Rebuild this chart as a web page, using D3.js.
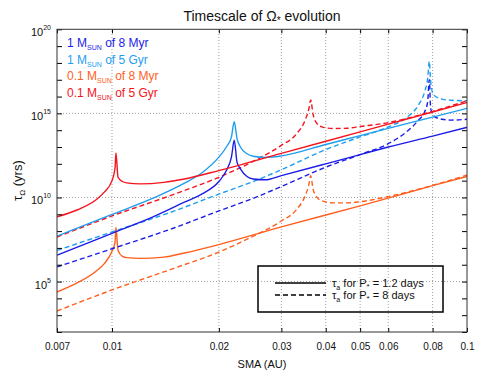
<!DOCTYPE html>
<html>
<head>
<meta charset="utf-8">
<script src="https://cdn.jsdelivr.net/npm/d3@7"></script>
<style>
  body { margin: 0; background: #fff; }
  text { font-family: "Liberation Sans", Arial, sans-serif; }
</style>
</head>
<body>
<div id="chart"></div>
<script>
// Axis ticks
const smaTicks = [0.007, 0.01, 0.02, 0.03, 0.04, 0.05, 0.06, 0.08, 0.1];
const tauDecades = d3.range(2, 21);          // tick at every decade, 10^2 .. 10^20
const tauLabelExps = [5, 10, 15, 20];

// Top-left legend
const legendMass = ['1', '1', '0.1', '0.1'];
const legendAge = ['8 Myr', '5 Gyr', '8 Myr', '5 Gyr'];
const seriesColors = ['#1c1ce8', '#1e9ef0', '#ff5f1e', '#f5141e'];
// Bottom-right legend
const periodLabels = ['1.2 days', '8 days'];

// SMA sampling (AU) for each group of curves
const smaSolidLow = [0.007, 0.008, 0.009, 0.0095, 0.01, 0.0102, 0.01026, 0.0104, 0.0107, 0.011, 0.012, 0.014, 0.016, 0.02, 0.03, 0.05, 0.08, 0.1];
const smaSolidSun = [0.007, 0.01, 0.013, 0.016, 0.018, 0.02, 0.021, 0.0217, 0.0221, 0.0225, 0.023, 0.024, 0.025, 0.027, 0.03, 0.04, 0.05, 0.06, 0.08, 0.1];
const smaDashLow = [0.007, 0.01, 0.015, 0.02, 0.025, 0.03, 0.033, 0.035, 0.0358, 0.0363, 0.0368, 0.0375, 0.039, 0.042, 0.046, 0.05, 0.06, 0.08, 0.1];
const smaDashSun = [0.007, 0.01, 0.015, 0.02, 0.025, 0.03, 0.04, 0.05, 0.06, 0.068, 0.073, 0.076, 0.0775, 0.0783, 0.079, 0.0805, 0.085, 0.09, 0.1];

// log10(tau / yr)
const tauSun8MyrP12 = [6.57, 7.87, 8.83, 9.72, 10.23, 10.95, 11.6, 12.4, 13.4, 12.1, 11.7, 11.25, 11.1, 11.05, 11.3, 12.0, 12.55, 13.0, 13.65, 14.17];
const tauSun5GyrP12 = [7.7, 8.99, 9.94, 10.85, 11.5, 12.4, 13.0, 13.6, 14.5, 13.5, 13.0, 12.6, 12.45, 12.38, 12.47, 13.15, 13.68, 14.11, 14.78, 15.3];
const tauLow8MyrP12 = [4.38, 4.93, 5.6, 6.05, 6.8, 7.35, 8.21, 6.85, 6.5, 6.42, 6.38, 6.45, 6.7, 7.2, 8.25, 9.5, 10.7, 11.25];
const tauLow5GyrP12 = [8.85, 9.27, 9.85, 10.3, 11.0, 11.75, 12.65, 11.2, 10.95, 10.87, 10.81, 10.9, 11.1, 11.6, 12.62, 13.9, 15.08, 15.65];
const tauSun8MyrP8 = [5.87, 6.95, 8.2, 9.2, 9.95, 10.65, 11.8, 12.55, 13.2, 13.95, 14.6, 15.1, 15.7, 17.0, 15.3, 14.85, 14.65, 14.6, 14.65];
const tauSun5GyrP8 = [6.85, 7.95, 9.2, 10.2, 10.95, 11.65, 12.85, 13.6, 14.2, 14.8, 15.5, 16.3, 17.1, 18.1, 16.9, 16.1, 15.85, 15.78, 15.75];
const tauLow8MyrP8 = [3.25, 4.5, 5.8, 6.75, 7.7, 8.6, 9.25, 10.1, 10.7, 11.3, 10.55, 10.1, 9.8, 9.68, 9.68, 9.75, 10.05, 10.72, 11.33];
const tauLow5GyrP8 = [7.65, 8.9, 10.2, 11.2, 12.15, 13.1, 13.75, 14.6, 15.2, 15.8, 15.0, 14.5, 14.2, 14.1, 14.12, 14.22, 14.45, 15.12, 15.75];

const width = 491, height = 378;
const margin = { top: 29.3, right: 24, bottom: 46, left: 57 };

const svg = d3.select('#chart')
    .append('svg')
    .attr('width', width)
    .attr('height', height);

const x = d3.scaleLog()
    .domain([0.007, 0.1])
    .range([margin.left, width - margin.right]);
const y = d3.scaleLog()
    .domain([1e2, 1e20])
    .range([height - margin.bottom, margin.top]);

const [x0, x1] = x.range();
const [yBot, yTop] = y.range();

// Dotted grid
const grid = svg.append('g')
    .attr('stroke', '#8a8a8a')
    .attr('stroke-width', 0.8)
    .attr('stroke-dasharray', '1,2');
grid.selectAll('.gx')
    .data(smaTicks.slice(1, -1))
    .join('line')
    .attr('x1', d => x(d)).attr('x2', d => x(d))
    .attr('y1', yBot).attr('y2', yTop);
grid.selectAll('.gy')
    .data(tauLabelExps.slice(0, -1))
    .join('line')
    .attr('x1', x0).attr('x2', x1)
    .attr('y1', d => y(Math.pow(10, d))).attr('y2', d => y(Math.pow(10, d)));

// Curves
svg.append('clipPath').attr('id', 'clip')
    .append('rect')
    .attr('x', x0).attr('y', yTop)
    .attr('width', x1 - x0).attr('height', yBot - yTop);

const series = [
    { sma: smaDashLow, tau: tauLow8MyrP8, color: seriesColors[2], dash: true },
    { sma: smaSolidLow, tau: tauLow8MyrP12, color: seriesColors[2], dash: false },
    { sma: smaDashSun, tau: tauSun8MyrP8, color: seriesColors[0], dash: true },
    { sma: smaDashSun, tau: tauSun5GyrP8, color: seriesColors[1], dash: true },
    { sma: smaDashLow, tau: tauLow5GyrP8, color: seriesColors[3], dash: true },
    { sma: smaSolidSun, tau: tauSun8MyrP12, color: seriesColors[0], dash: false },
    { sma: smaSolidSun, tau: tauSun5GyrP12, color: seriesColors[1], dash: false },
    { sma: smaSolidLow, tau: tauLow5GyrP12, color: seriesColors[3], dash: false }
];

const line = d3.line()
    .x(d => x(d[0]))
    .y(d => y(Math.pow(10, d[1])))
    .curve(d3.curveMonotoneX);

svg.append('g')
    .attr('clip-path', 'url(#clip)')
    .selectAll('path')
    .data(series)
    .join('path')
    .attr('d', s => line(s.sma.map((a, i) => [a, s.tau[i]])))
    .attr('fill', 'none')
    .attr('stroke', s => s.color)
    .attr('stroke-width', 1.4)
    .attr('stroke-dasharray', s => s.dash ? '5,3' : null);

// Axes (ticks pointing inward)
svg.append('g')
    .attr('transform', `translate(0,${yBot})`)
    .call(d3.axisBottom(x).tickValues(smaTicks).tickFormat(d => d).tickSize(-4).tickPadding(11))
    .call(g => g.select('.domain').remove())
    .call(g => g.selectAll('text').attr('font-size', 10).attr('font-family', null).attr('fill', '#111'));
svg.append('g')
    .attr('transform', `translate(0,${yTop})`)
    .call(d3.axisTop(x).tickValues(smaTicks).tickFormat('').tickSize(-4))
    .call(g => g.select('.domain').remove());
svg.append('g')
    .attr('transform', `translate(${x0},0)`)
    .call(d3.axisLeft(y).tickValues(tauDecades.map(e => Math.pow(10, e))).tickFormat('').tickSize(-5))
    .call(g => g.select('.domain').remove());
svg.append('g')
    .attr('transform', `translate(${x1},0)`)
    .call(d3.axisRight(y).tickValues(tauDecades.map(e => Math.pow(10, e))).tickFormat('').tickSize(-5))
    .call(g => g.select('.domain').remove());

svg.append('rect')
    .attr('x', x0).attr('y', yTop)
    .attr('width', x1 - x0).attr('height', yBot - yTop)
    .attr('fill', 'none')
    .attr('stroke', '#333')
    .attr('stroke-width', 1);

// Y tick labels as 10^n
const yLab = svg.append('g').selectAll('text')
    .data(tauLabelExps)
    .join('text')
    .attr('x', x0 - 6)
    .attr('y', d => y(Math.pow(10, d)) + 7)
    .attr('text-anchor', 'end')
    .attr('font-size', 11)
    .attr('fill', '#111');
yLab.append('tspan').text('10');
yLab.append('tspan').text(d => d).attr('font-size', 7).attr('dy', -6);

// Titles
const title = svg.append('text')
    .attr('x', (x0 + x1) / 2)
    .attr('y', 21)
    .attr('text-anchor', 'middle')
    .attr('font-size', 14)
    .attr('fill', '#111');
title.append('tspan').text('Timescale of Ω');
title.append('tspan').text('*').attr('font-size', 10).attr('dy', 3);
title.append('tspan').text(' evolution').attr('dy', -3);

svg.append('text')
    .attr('x', (x0 + x1) / 2)
    .attr('y', 368)
    .attr('text-anchor', 'middle')
    .attr('font-size', 11)
    .attr('fill', '#111')
    .text('SMA (AU)');

const yTitle = svg.append('text')
    .attr('transform', `translate(22,${(yTop + yBot) / 2}) rotate(-90)`)
    .attr('text-anchor', 'middle')
    .attr('font-size', 13)
    .attr('fill', '#111');
yTitle.append('tspan').text('τ');
yTitle.append('tspan').text('Ω').attr('font-size', 8).attr('dy', 3);
yTitle.append('tspan').text(' (yrs)').attr('dy', -3);

// Top-left legend
const leg = svg.append('g').selectAll('text')
    .data(legendMass)
    .join('text')
    .attr('x', 67)
    .attr('y', (d, i) => 47 + i * 16.7)
    .attr('font-size', 12)
    .attr('fill', (d, i) => seriesColors[i]);
leg.append('tspan').text(d => d + ' M');
leg.append('tspan').text('SUN').attr('font-size', 7).attr('dy', 3);
leg.append('tspan').text((d, i) => ' of ' + legendAge[i]).attr('dy', -3);

// Bottom-right legend
const box = svg.append('g');
box.append('rect')
    .attr('x', 258).attr('y', 266)
    .attr('width', 185).attr('height', 46)
    .attr('fill', 'none')
    .attr('stroke', '#000')
    .attr('stroke-width', 1.5);
const items = box.selectAll('.item')
    .data(periodLabels)
    .join('g')
    .attr('transform', (d, i) => `translate(0,${283 + i * 12})`);
items.append('line')
    .attr('x1', 275).attr('x2', 326)
    .attr('stroke', '#000')
    .attr('stroke-width', 1.4)
    .attr('stroke-dasharray', (d, i) => i ? '5,3' : null);
const itemText = items.append('text')
    .attr('x', 332)
    .attr('y', 4)
    .attr('font-size', 11)
    .attr('fill', '#111');
itemText.append('tspan').text('τ');
itemText.append('tspan').text('a').attr('font-size', 7).attr('dy', 3);
itemText.append('tspan').text(' for P').attr('dy', -3);
itemText.append('tspan').text('*').attr('font-size', 8).attr('dy', 2);
itemText.append('tspan').text(d => ' = ' + d).attr('dy', -2);
</script>
</body>
</html>
